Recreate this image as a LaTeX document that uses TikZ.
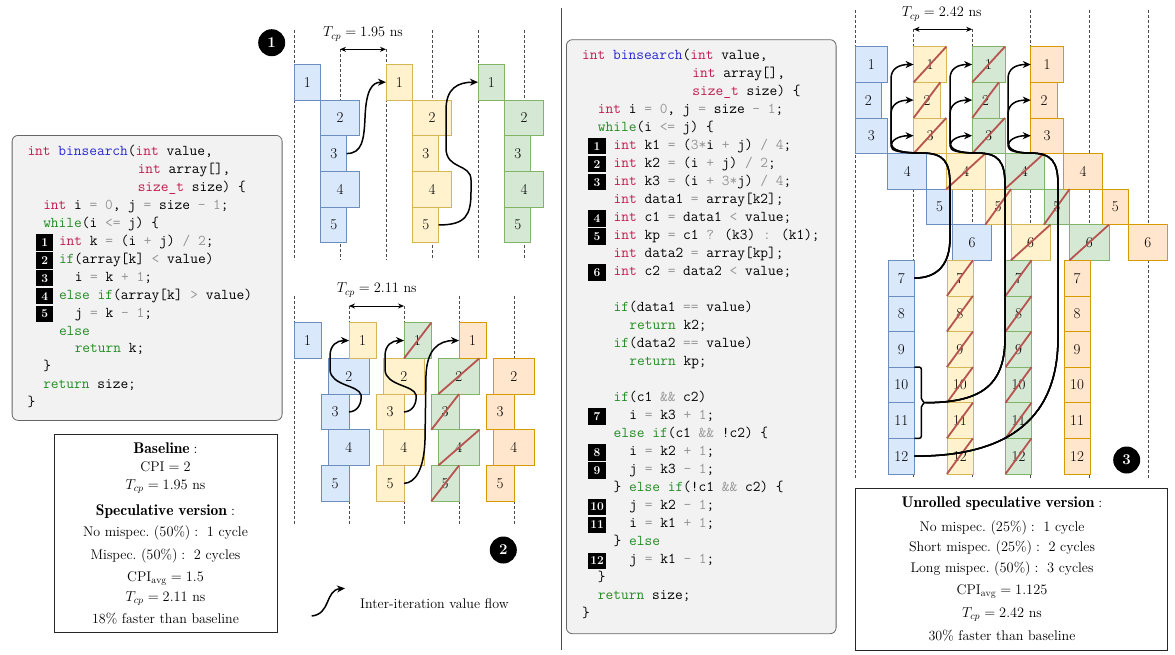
\documentclass[tikz,border=0pt]{standalone}
\usepackage{fontspec}
\usepackage{amsmath}
\usetikzlibrary{arrows.meta}

\definecolor{bluef}{HTML}{DAE8FC}\definecolor{bluel}{HTML}{6C8EBF}
\definecolor{yelf}{HTML}{FFF2CC}\definecolor{yell}{HTML}{D6B656}
\definecolor{grnf}{HTML}{D5E8D4}\definecolor{grnl}{HTML}{82B366}
\definecolor{orgf}{HTML}{FFE6CC}\definecolor{orgl}{HTML}{D79B00}
\definecolor{strk}{HTML}{B85450}
\definecolor{ctype}{RGB}{196,26,80}
\definecolor{ckw}{RGB}{34,140,34}
\definecolor{cfn}{RGB}{40,40,210}
\definecolor{cop}{RGB}{150,150,150}

% syntax colouring for the listings
\newcommand\cTy[1]{\textcolor{ctype}{#1}}
\newcommand\cKw[1]{\textcolor{ckw}{#1}}
\newcommand\cFn[1]{\textcolor{cfn}{#1}}
\newcommand\cOp[1]{\textcolor{cop}{#1}}

% code lines: line index, column, text
\newcommand\lc[3]{\node[codetext] (lc#1) at ({27.3+#2*7.875},{155.7+#1*17.93}) {#3};}
\newcommand\mc[3]{\node[codetext] (mc#1) at ({582+#2*7.875},{59+#1*18.03}) {#3};}
% line badges: line index, number
\newcommand\lbadge[2]{\node[badge] (lb#2) at (44.7,{152.7+#1*17.93}) {#2};}
\newcommand\mbadge[2]{\node[badge] (mb#2) at (597,{56+#1*18.03}) {#2};}

% pipeline columns
\newcommand\sone[3]{%
  \node[#1,minimum width=26.7pt] (#2-1) at (#3,64.3) {1};
  \node[#1,minimum width=38.7pt] (#2-2) at ({#3+26.7},100) {2};
  \node[#1,minimum width=26pt]   (#2-3) at ({#3+26.7},135.7) {3};
  \node[#1,minimum width=38.7pt] (#2-4) at ({#3+26.7},171.4) {4};
  \node[#1,minimum width=26pt]   (#2-5) at ({#3+26.7},207.1) {5};}
\newcommand\stwo[3]{%
  \node[#1,minimum width=27.3pt] (#2-1) at (#3,322.7) {1};
  \node[#1,minimum width=41pt]   (#2-2) at ({#3+34.3},358.4) {2};
  \node[#1,minimum width=27.7pt] (#2-3) at ({#3+27.3},394.1) {3};
  \node[#1,minimum width=41pt]   (#2-4) at ({#3+34.3},429.8) {4};
  \node[#1,minimum width=27.7pt] (#2-5) at ({#3+27.3},465.5) {5};}
\newcommand\sthree[3]{%
  \node[#1,h3,minimum width=32.7pt] (#2-1) at (#3,46.7) {1};
  \node[#1,h3,minimum width=26.7pt] (#2-2) at (#3,82.3) {2};
  \node[#1,h3,minimum width=32.7pt] (#2-3) at (#3,117.9) {3};
  \node[#1,h3,minimum width=39pt]   (#2-4) at ({#3+32.7},153.5) {4};
  \node[#1,h3,minimum width=25.7pt] (#2-5) at ({#3+71.7},189.1) {5};
  \node[#1,h3,minimum width=39.4pt] (#2-6) at ({#3+97.3},224.7) {6};
  \foreach \i in {7,...,12}{%
    \node[#1,h3,minimum width=26pt] (#2-\i) at ({#3+33.3},{46.7+(\i-1)*35.6}) {\i};}}

% value flow in section 2: source, target, horizontal shift
\newcommand\loopflow[3]{\draw[flow] (#1.east) .. controls ({358+#3},411.5) and ({362+#3},403) .. ({361+#3},395)
  .. controls ({359+#3},385) and ({331+#3},386) .. ({330+#3},370) -- ({330+#3},356)
  .. controls ({330+#3},345) and ({337+#3},340.5) .. (#2.west);}

% fan-in arrows of section 3: source path, rising x, stem x, target, target y
\newcommand\fanhi[5]{\draw[flow] #1 -- (#2,185) .. controls (#2,162) and ({#2-6},153) .. ({#2-28},153)
  .. controls ({#3+8},153) and (#3,150) .. (#3,142) -- (#3,{#5+14})
  .. controls (#3,{#5+4}) and ({#3+8},#5) .. (#4.west);}
\newcommand\fanlo[5]{\draw[flow] #1 -- (#2,185) .. controls (#2,162) and ({#2-6},153) .. ({#2-28},153)
  .. controls ({#3+8},153) and (#3,151) .. (#3,146)
  .. controls (#3,140) and ({#3+8},#5) .. (#4.west);}

\begin{document}
\begin{tikzpicture}[x=1pt,y=-1pt,
  codebox/.style={draw=black!60, fill=black!5, line width=0.8pt, rounded corners=6pt, anchor=north west, inner sep=0pt},
  statbox/.style={draw=black!85, fill=white, line width=0.8pt, anchor=north west, inner sep=0pt},
  codetext/.style={anchor=base west, inner sep=0pt, font=\ttfamily\fontsize{15}{15}\selectfont},
  badge/.style={fill=black, text=white, inner sep=0pt, minimum width=17.3pt, minimum height=16.5pt, font=\bfseries\fontsize{12}{12}\selectfont},
  stat/.style={anchor=base, inner sep=0pt, font=\fontsize{14}{16}\selectfont},
  stathead/.style={anchor=base, inner sep=0pt, font=\fontsize{15.5}{17}\selectfont},
  lbl/.style={inner sep=0pt, font=\fontsize{14}{16}\selectfont},
  pbox/.style={draw, line width=0.8pt, inner sep=0pt, outer sep=0pt, anchor=north west, minimum height=35.7pt, font=\fontsize{15}{15}\selectfont},
  h3/.style={minimum height=35.6pt},
  cblue/.style={pbox, fill=bluef, draw=bluel},
  cyel/.style={pbox, fill=yelf, draw=yell},
  cgrn/.style={pbox, fill=grnf, draw=grnl},
  corg/.style={pbox, fill=orgf, draw=orgl},
  strike/.style={draw=strk, line width=1.8pt},
  cyc/.style={draw=black!70, line width=0.8pt, dash pattern=on 2.5pt off 2.5pt},
  tcp/.style={line width=0.9pt, {Stealth[length=6pt,width=5pt]}-{Stealth[length=6pt,width=5pt]}},
  flow/.style={line width=1.5pt, line join=round, -{Stealth[length=8pt,width=7pt,inset=2.5pt]}},
  num/.style={circle, fill=black, text=white, minimum size=27pt, inner sep=0pt, font=\bfseries\fontsize{15}{15}\selectfont}]
\useasboundingbox (0,0) rectangle (1175,654);

% ---------------- left listing ----------------
\node[codebox, minimum width=270pt, minimum height=285pt] (cb1) at (11.7,135) {};
\lc{0}{0}{\cTy{int} \cFn{binsearch}(\cTy{int} value,}
\lc{1}{14}{\cTy{int} array[],}
\lc{2}{14}{\cTy{size\_t} size) \{}
\lc{3}{2}{\cTy{int} i \cOp{=} \cOp{0}, j \cOp{=} size \cOp{-} \cOp{1};}
\lc{4}{2}{\cKw{while}(i \cOp{<=} j) \{}
\lc{5}{4}{\cTy{int} k \cOp{=} (i \cOp{+} j) \cOp{/} \cOp{2};}
\lc{6}{4}{\cKw{if}(array[k] \cOp{<} value)}
\lc{7}{6}{i \cOp{=} k \cOp{+} \cOp{1};}
\lc{8}{4}{\cKw{else} \cKw{if}(array[k] \cOp{>} value)}
\lc{9}{6}{j \cOp{=} k \cOp{-} \cOp{1};}
\lc{10}{4}{\cKw{else}}
\lc{11}{6}{\cKw{return} k;}
\lc{12}{2}{\}}
\lc{13}{2}{\cKw{return} size;}
\lc{14}{0}{\}}
\lbadge{5}{1}\lbadge{6}{2}\lbadge{7}{3}\lbadge{8}{4}\lbadge{9}{5}

% ---------------- left statistics ----------------
\node[statbox, minimum width=222.4pt, minimum height=197.4pt] (sb1) at (54.3,434.3) {};
\node[stathead] (s1a) at (165.5,453.8) {$\mathbf{Baseline:}$};
\node[stat] (s1b) at (165.5,471.2) {$\mathrm{CPI} = 2$};
\node[stat] (s1c) at (165.5,489.5) {$T_{cp} = 1.95\ \mathrm{ns}$};
\node[stathead] (s1d) at (165.5,515.5) {$\mathbf{Speculative\ version:}$};
\node[stat] (s1e) at (165.5,536.8) {$\text{No mispec.}\ (50\%):\ 1\ \text{cycle}$};
\node[stat] (s1f) at (165.5,559.5) {$\text{Mispec.}\ (50\%):\ 2\ \text{cycles}$};
\node[stat] (s1g) at (165.5,581.2) {$\mathrm{CPI}_{\mathrm{avg}} = 1.5$};
\node[stat] (s1h) at (165.5,601.2) {$T_{cp} = 2.11\ \mathrm{ns}$};
\node[stat] (s1i) at (165.5,623.8) {18\% faster than baseline};

% ---------------- section 1: baseline ----------------
\foreach \x in {294,432,478,524} \draw[cyc] (\x,30) -- (\x,260);
\foreach \x in {340,386} \draw[cyc] (\x,49) -- (\x,260);
\sone{cblue}{p1b}{294}
\sone{cyel}{p1y}{386}
\sone{cgrn}{p1g}{478}
\node[num] (n1) at (271.7,42.7) {1};
\node[lbl] (t1) at (363,34) {$T_{cp} = 1.95\ \mathrm{ns}$};
\coordinate (t1a) at (340,49.3); \coordinate (t1b) at (386,49.3);
\draw[tcp] (t1a) -- (t1b);
\draw[flow] (p1b-3.east) .. controls (362,153.5) and (364,140) .. (365,118)
  .. controls (366,90) and (372,82.2) .. (p1y-1.west);
\draw[flow] (p1y-5.east) .. controls (466,225) and (471,215) .. (471,192) -- (471,180)
  .. controls (471,163) and (446,170) .. (446,148) -- (446,110)
  .. controls (446,88) and (458,82.2) .. (p1g-1.west);

% ---------------- section 2: speculative ----------------
\foreach \x in {294,459,514} \draw[cyc] (\x,296) -- (\x,525);
\foreach \x in {349,404} \draw[cyc] (\x,306) -- (\x,525);
\stwo{cblue}{p2b}{294}
\stwo{cyel}{p2y}{349}
\stwo{cgrn}{p2g}{404}
\stwo{corg}{p2o}{459}
\foreach \i in {1,...,5} \draw[strike] (p2g-\i.south west) -- (p2g-\i.north east);
\node[lbl] (t2) at (376.7,290) {$T_{cp} = 2.11\ \mathrm{ns}$};
\coordinate (t2a) at (349,306); \coordinate (t2b) at (404,306);
\draw[tcp] (t2a) -- (t2b);
\loopflow{p2b-3}{p2y-1}{0}
\loopflow{p2y-3}{p2g-1}{55}
\draw[flow] (p2y-5.east) .. controls (415,483) and (424,470) .. (425,440) -- (426,375)
  .. controls (427,350) and (438,340.5) .. (p2o-1.west);
\node[num] (n2) at (503.3,550) {2};

% legend
\coordinate (lg0) at (311.7,616); \coordinate (lg1) at (345,588.3);
\draw[flow] (lg0) .. controls (331,614) and (325,590) .. (lg1);
\node[lbl, anchor=west] (lgt) at (360,603.3) {Inter-iteration value flow};

% separator
\draw[black!70, line width=0.8pt] (561,8) -- (561,650);

% ---------------- middle listing ----------------
\node[codebox, minimum width=269.7pt, minimum height=594pt] (cb2) at (566,39.3) {};
\mc{0}{0}{\cTy{int} \cFn{binsearch}(\cTy{int} value,}
\mc{1}{14}{\cTy{int} array[],}
\mc{2}{14}{\cTy{size\_t} size) \{}
\mc{3}{2}{\cTy{int} i \cOp{=} \cOp{0}, j \cOp{=} size \cOp{-} \cOp{1};}
\mc{4}{2}{\cKw{while}(i \cOp{<=} j) \{}
\mc{5}{4}{\cTy{int} k1 \cOp{=} (\cOp{3*}i \cOp{+} j) \cOp{/} \cOp{4};}
\mc{6}{4}{\cTy{int} k2 \cOp{=} (i \cOp{+} j) \cOp{/} \cOp{2};}
\mc{7}{4}{\cTy{int} k3 \cOp{=} (i \cOp{+} \cOp{3*}j) \cOp{/} \cOp{4};}
\mc{8}{4}{\cTy{int} data1 \cOp{=} array[k2];}
\mc{9}{4}{\cTy{int} c1 \cOp{=} data1 \cOp{<} value;}
\mc{10}{4}{\cTy{int} kp \cOp{=} c1 \cOp{?} (k3) \cOp{:} (k1);}
\mc{11}{4}{\cTy{int} data2 \cOp{=} array[kp];}
\mc{12}{4}{\cTy{int} c2 \cOp{=} data2 \cOp{<} value;}
\mc{14}{4}{\cKw{if}(data1 \cOp{==} value)}
\mc{15}{6}{\cKw{return} k2;}
\mc{16}{4}{\cKw{if}(data2 \cOp{==} value)}
\mc{17}{6}{\cKw{return} kp;}
\mc{19}{4}{\cKw{if}(c1 \cOp{\&\&} c2)}
\mc{20}{6}{i \cOp{=} k3 \cOp{+} \cOp{1};}
\mc{21}{4}{\cKw{else} \cKw{if}(c1 \cOp{\&\&} !c2) \{}
\mc{22}{6}{i \cOp{=} k2 \cOp{+} \cOp{1};}
\mc{23}{6}{j \cOp{=} k3 \cOp{-} \cOp{1};}
\mc{24}{4}{\} \cKw{else} \cKw{if}(!c1 \cOp{\&\&} c2) \{}
\mc{25}{6}{j \cOp{=} k2 \cOp{-} \cOp{1};}
\mc{26}{6}{i \cOp{=} k1 \cOp{+} \cOp{1};}
\mc{27}{4}{\} \cKw{else}}
\mc{28}{6}{j \cOp{=} k1 \cOp{-} \cOp{1};}
\mc{29}{2}{\}}
\mc{30}{2}{\cKw{return} size;}
\mc{31}{0}{\}}
\mbadge{5}{1}\mbadge{6}{2}\mbadge{7}{3}\mbadge{9}{4}\mbadge{10}{5}\mbadge{12}{6}
\mbadge{20}{7}\mbadge{22}{8}\mbadge{23}{9}\mbadge{25}{10}\mbadge{26}{11}\mbadge{28}{12}

% ---------------- section 3: unrolled speculative ----------------
\foreach \x in {855,1030.8,1089.4,1148} \draw[cyc] (\x,10) -- (\x,478);
\foreach \x in {913.6,972.2} \draw[cyc] (\x,29) -- (\x,478);
\sthree{cblue}{p3b}{855}
\sthree{cyel}{p3y}{913.6}
\sthree{cgrn}{p3g}{972.2}
\sthree{corg}{p3o}{1030.8}
\foreach \i in {1,...,12}{%
  \draw[strike] (p3y-\i.south west) -- (p3y-\i.north east);
  \draw[strike] (p3g-\i.south west) -- (p3g-\i.north east);}
\node[lbl] (t3) at (941.7,14) {$T_{cp} = 2.42\ \mathrm{ns}$};
\coordinate (t3a) at (913.6,29.3); \coordinate (t3b) at (972.2,29.3);
\draw[tcp] (t3a) -- (t3b);

% bracket joining rows 10 and 11
\draw[line width=1.5pt, rounded corners=2pt] (p3b-10.north east) -- ++(7,0) -- ++(0,33.2)
  -- ++(4,2.4) coordinate (brk) -- ++(-4,2.4) -- ++(0,33.2) -- (p3b-11.south east);

\fanhi{(p3b-7.east) .. controls (938,278) and (950,264) .. (950,238)}{950}{891}{p3y-1}{64.5}
\fanhi{(p3b-7.east) .. controls (938,278) and (950,264) .. (950,238)}{950}{891}{p3y-2}{100.1}
\fanlo{(p3b-7.east) .. controls (938,278) and (950,264) .. (950,238)}{950}{891}{p3y-3}{135.7}
\fanhi{(brk) .. controls (978,402.5) and (1005,388) .. (1005,338)}{1005}{950}{p3g-1}{64.5}
\fanhi{(brk) .. controls (978,402.5) and (1005,388) .. (1005,338)}{1005}{950}{p3g-2}{100.1}
\fanlo{(brk) .. controls (978,402.5) and (1005,388) .. (1005,338)}{1005}{950}{p3g-3}{135.7}
\fanhi{(p3b-12.east) .. controls (1000,456.5) and (1058,425) .. (1058,338)}{1058}{1008}{p3o-1}{64.5}
\fanhi{(p3b-12.east) .. controls (1000,456.5) and (1058,425) .. (1058,338)}{1058}{1008}{p3o-2}{100.1}
\fanlo{(p3b-12.east) .. controls (1000,456.5) and (1058,425) .. (1058,338)}{1058}{1008}{p3o-3}{135.7}
\node[num] (n3) at (1126.7,460) {3};

% ---------------- right statistics ----------------
\node[statbox, minimum width=311.7pt, minimum height=161.7pt] (sb2) at (855,488.3) {};
\node[stathead] (s2a) at (1002,507.2) {$\mathbf{Unrolled\ speculative\ version:}$};
\node[stat] (s2b) at (1002,531.2) {$\text{No mispec.}\ (25\%):\ 1\ \text{cycle}$};
\node[stat] (s2c) at (1002,551.2) {$\text{Short mispec.}\ (25\%):\ 2\ \text{cycles}$};
\node[stat] (s2d) at (1002,572.2) {$\text{Long mispec.}\ (50\%):\ 3\ \text{cycles}$};
\node[stat] (s2e) at (1002,594.5) {$\mathrm{CPI}_{\mathrm{avg}} = 1.125$};
\node[stat] (s2f) at (1002,617.2) {$T_{cp} = 2.42\ \mathrm{ns}$};
\node[stat] (s2g) at (1002,640.5) {30\% faster than baseline};
\end{tikzpicture}
\end{document}
